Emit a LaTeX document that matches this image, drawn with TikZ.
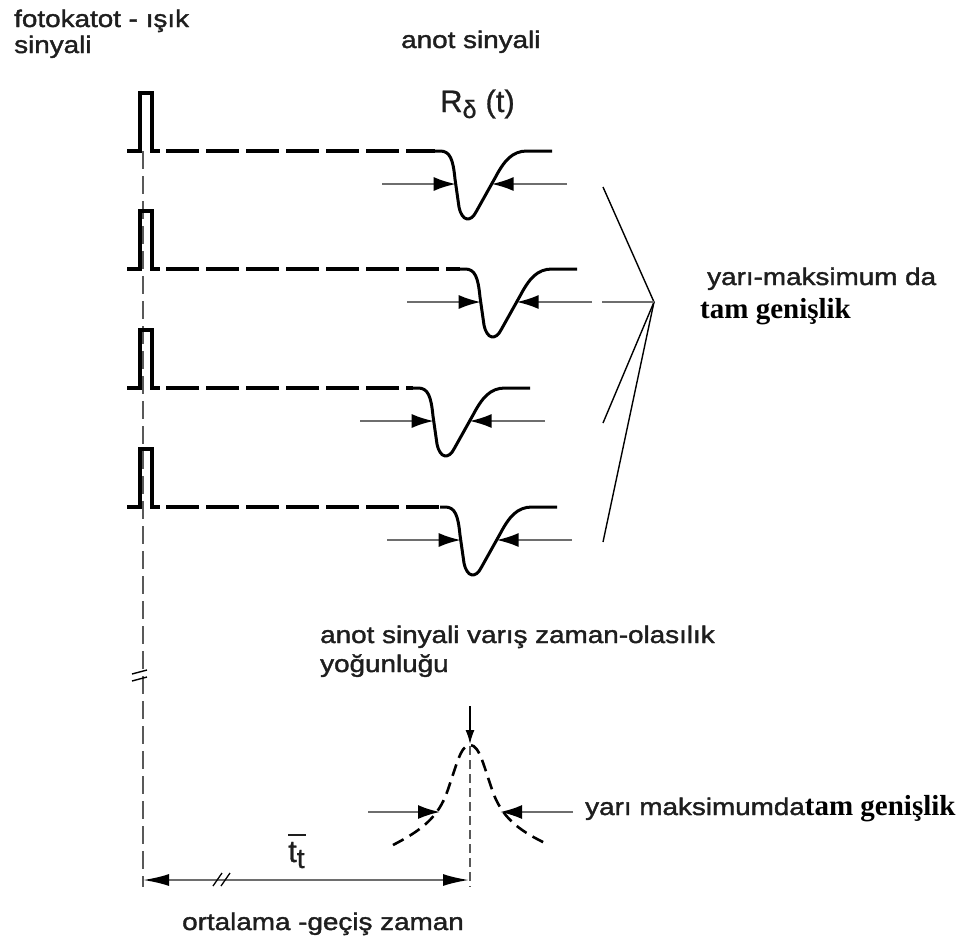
\documentclass[tikz,border=0pt]{standalone}
\usepackage{fontspec}
\setmainfont{Liberation Sans}
\newfontfamily\lab[FakeStretch=1.16,FakeBold=1.6]{Liberation Sans}
\newfontfamily\rlab[FakeBold=0.8]{Liberation Sans}
\newfontfamily\serb{Liberation Serif}
\usetikzlibrary{arrows.meta}
\definecolor{txt}{HTML}{1E1E1E}
\definecolor{meascol}{HTML}{6E6E6E}
\begin{document}
\begin{tikzpicture}[x=1pt,y=-1pt,
 pulse/.style={line width=3.3pt, line join=miter},
 basedash/.style={line width=4pt, dash pattern=on 33pt off 7pt},
 sig/.style={line width=3pt, line join=round},
 meas/.style={draw=meascol, line width=2pt, -{Latex[length=22pt,width=14pt,color=black]}},
 vdash/.style={draw=gray!70!black, line width=1.7pt, dash pattern=on 18pt off 7pt},
 fan/.style={line width=1.4pt},
 lbl/.style={anchor=base west, inner sep=0pt, text=txt, font=\lab\fontsize{24}{27}\selectfont},
 ser/.style={anchor=base west, inner sep=0pt, font=\serb\bfseries\fontsize{29}{33}\selectfont},
]
\useasboundingbox (0,0) rectangle (971,945);

% left time axis
\coordinate (vtop) at (143,151);
\coordinate (vbot) at (143,887);
\draw[vdash] (vtop) -- (vbot);
\draw[line width=1.4pt] (132,674) -- (147,670);
\draw[line width=1.4pt] (132,681) -- (147,677);

% rows of pulses and responses
\foreach \r/\yb/\xo in {1/151/440, 2/269/465, 3/388/418, 4/507/445}{
 \draw[pulse] (127,\yb) -- (140,\yb) -- (140,\yb-58) -- (152,\yb-58) -- (152,\yb) -- (160,\yb);
 \draw[basedash] (166,\yb) -- (\xo-5,\yb);
 \begin{scope}[shift={(\xo,\yb)}]
  \draw[sig] (-5,0) -- (0,0) .. controls (10,0) and (13,8) .. (15,28) -- (19,56)
     .. controls (22,71) and (31,71) .. (36,61) -- (55,27)
     .. controls (64,10) and (72,0) .. (87,0) -- (112,0);
  \coordinate (la\r) at (-58,33);
  \coordinate (lt\r) at (15.7,33);
  \coordinate (ra\r) at (127,33);
  \coordinate (rt\r) at (51.6,33);
  \draw[meas] (la\r) -- (lt\r);
  \draw[meas] (ra\r) -- (rt\r);
 \end{scope}
}

% fan of lines
\coordinate (apex) at (654,302);
\coordinate (f1) at (603,187);
\coordinate (f3) at (603,423);
\coordinate (f4) at (603,542);
\coordinate (e2) at (602,302);
\draw[fan] (f1) -- (apex) -- (f3);
\draw[fan] (apex) -- (f4);
\draw[draw=meascol, line width=2pt] (e2) -- (apex);

% probability density peak
\draw[line width=2.6pt, dash pattern=on 12pt off 7pt]
  (393,845) .. controls (418,832) and (436,820) .. (446,795)
  .. controls (456,768) and (460,745) .. (470,745)
  .. controls (480,745) and (484,768) .. (494,795)
  .. controls (504,820) and (522,832) .. (547,844);
\coordinate (ptop) at (470,746);
\coordinate (pbot) at (470,887);
\coordinate (parr) at (470,706);
\draw[draw=gray!70!black, line width=1.4pt, dash pattern=on 9pt off 5pt] (ptop) -- (pbot);
\draw[line width=1.4pt, -{Latex[length=14pt,width=9pt]}] (parr) -- (470,744);
\coordinate (hl) at (368,812);
\coordinate (hlt) at (440,812);
\coordinate (hr) at (573,812);
\coordinate (hrt) at (500,812);
\draw[meas] (hl) -- (hlt);
\draw[meas] (hr) -- (hrt);

% mean transit time arrow
\coordinate (tl) at (143,880);
\coordinate (tr) at (469,880);
\draw[draw=meascol, line width=2pt, {Latex[length=26pt,width=12pt,color=black]}-{Latex[length=26pt,width=12pt,color=black]}] (tl) -- (tr);
\draw[line width=1.3pt] (213,886) -- (222,873);
\draw[line width=1.3pt] (221,886) -- (230,873);

% texts
\node[lbl] (t1) at (14,27) {fotokatot - ışık};
\node[lbl] (t2) at (14,53) {sinyali};
\node[lbl] (t3) at (401,48) {anot sinyali};
\node[anchor=base west, inner sep=0pt, text=txt, font=\rlab\fontsize{31}{31}\selectfont] (t4) at (440,112) {R\raisebox{-6pt}{\fontsize{25}{25}\selectfont δ}\hspace{9pt}(t)};
\node[lbl] (t5) at (707,285) {yarı-maksimum da};
\node[ser] (t6) at (700,318) {tam genişlik};
\node[lbl] (t7) at (320,643) {anot sinyali varış zaman-olasılık};
\node[lbl] (t8) at (320,672) {yoğunluğu};
\node[anchor=base west, inner sep=0pt] (t9) at (585,815) {{\lab\fontsize{24}{27}\selectfont\color{txt}yarı maksimumda}{\serb\bfseries\fontsize{29}{33}\selectfont tam genişlik}};
\node[anchor=base west, inner sep=0pt, text=txt, font=\rlab\fontsize{31}{31}\selectfont] (t10) at (288,862) {\rlap{\raisebox{26pt}{\rule{18pt}{1.8pt}}}t\raisebox{-6pt}{\fontsize{28}{28}\selectfont t}};
\node[lbl] (t11) at (182,930) {ortalama -geçiş zaman};
\end{tikzpicture}
\end{document}
